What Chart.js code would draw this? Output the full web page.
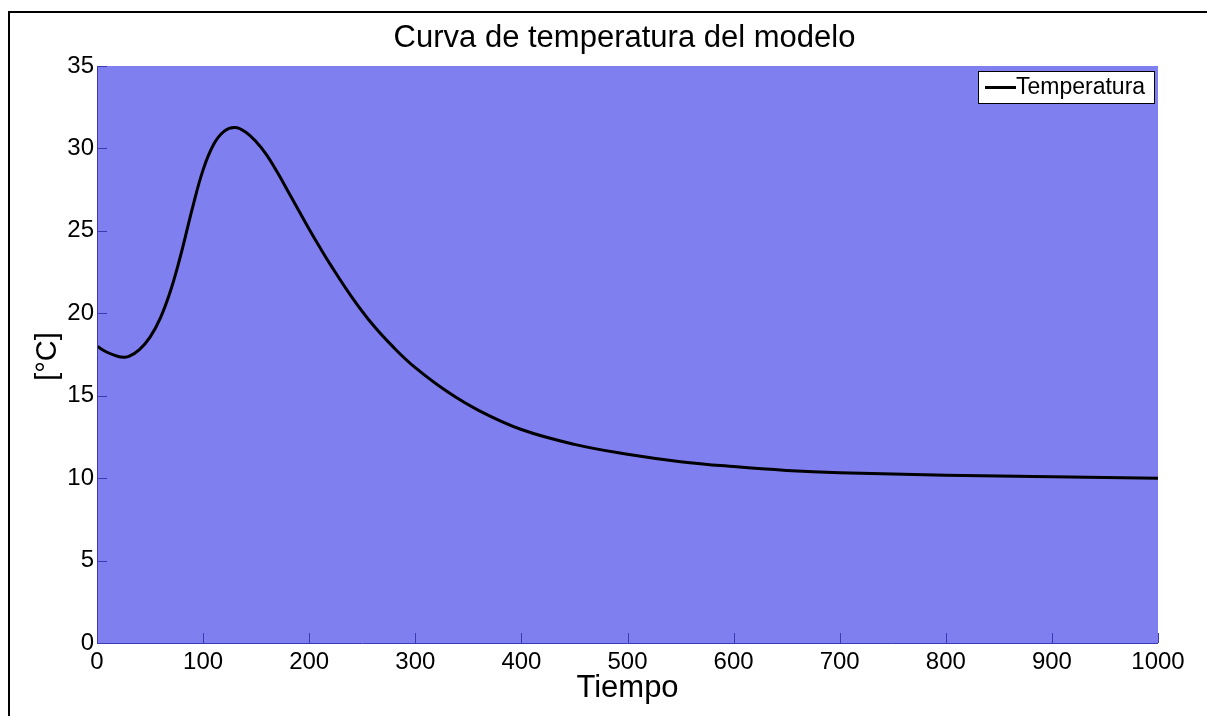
<!DOCTYPE html>
<html>
<head>
<meta charset="utf-8">
<script src="https://cdn.jsdelivr.net/npm/chart.js@4/dist/chart.umd.min.js"></script>
<style>
html,body{margin:0;padding:0;background:#fff;overflow:hidden;}
canvas{display:block;}
</style>
</head>
<body>
<canvas id="c" width="1207" height="716"></canvas>
<script>
const chartTitle = "Curva de temperatura del modelo";
const xTitle = "Tiempo";
const yTitle = "[°C]";
const seriesName = "Temperatura";
const times = [0,10,20,25,30,40,50,60,70,80,90,100,110,120,130,140,150,160,170,180,190,200,210,220,240,260,280,300,330,360,400,450,500,550,600,650,700,800,900,1000];
const temperatures = [18.0,17.62,17.38,17.34,17.38,17.8,18.55,19.75,21.5,23.8,26.4,28.7,30.25,31.05,31.27,31.0,30.4,29.6,28.55,27.4,26.25,25.1,24.0,22.95,21.0,19.3,17.9,16.7,15.25,14.1,12.95,12.05,11.45,11.0,10.7,10.47,10.33,10.18,10.08,10.0];
const xTicks = [0,100,200,300,400,500,600,700,800,900,1000];
const yTicks = [0,5,10,15,20,25,30,35];

const FONT = "'Liberation Sans', Arial, Helvetica, sans-serif";
const AXIS_COLOR = "#3a3ab4";
const BG = "rgb(127,127,239)";

const points = times.map((t, i) => ({x: t, y: temperatures[i]}));

const decor = {
  id: 'decor',
  beforeDraw(chart) {
    const {ctx, chartArea: a} = chart;
    ctx.save();
    ctx.fillStyle = BG;
    ctx.fillRect(a.left, a.top, a.right - a.left, a.bottom - a.top);
    ctx.restore();
  },
  afterDatasetsDraw(chart) {
    const {ctx, chartArea: a, scales} = chart;
    ctx.save();
    ctx.strokeStyle = AXIS_COLOR;
    ctx.lineWidth = 1;
    ctx.beginPath();
    ctx.moveTo(a.left + 0.5, a.top);
    ctx.lineTo(a.left + 0.5, a.bottom + 0.5);
    ctx.lineTo(a.right, a.bottom + 0.5);
    ctx.stroke();
    ctx.beginPath();
    xTicks.forEach(v => {
      const px = Math.round(scales.x.getPixelForValue(v)) + 0.5;
      ctx.moveTo(px, a.bottom);
      ctx.lineTo(px, a.bottom - 10);
    });
    yTicks.forEach(v => {
      const py = Math.round(scales.y.getPixelForValue(v)) + 0.5;
      ctx.moveTo(a.left, py);
      ctx.lineTo(a.left + 10, py);
    });
    ctx.stroke();
    // legend
    const lx = 978, ly = 71, lw = 176, lh = 32;
    ctx.fillStyle = '#fff';
    ctx.fillRect(lx, ly, lw, lh);
    ctx.strokeStyle = '#000';
    ctx.lineWidth = 1;
    ctx.strokeRect(lx + 0.5, ly + 0.5, lw, lh);
    ctx.lineWidth = 3;
    ctx.beginPath();
    ctx.moveTo(985, ly + 16.5);
    ctx.lineTo(1016, ly + 16.5);
    ctx.stroke();
    ctx.fillStyle = '#000';
    ctx.font = "23px " + FONT;
    ctx.textBaseline = 'middle';
    ctx.textAlign = 'left';
    ctx.fillText(seriesName, 1016, ly + 17);
    // titles
    const cx = (a.left + a.right) / 2;
    ctx.textAlign = 'center';
    ctx.font = "31px " + FONT;
    ctx.fillText(chartTitle, cx - 3, 38);
    ctx.font = "31px " + FONT;
    ctx.fillText(xTitle, cx, 688);
    ctx.save();
    ctx.translate(48, (a.top + a.bottom) / 2 + 2);
    ctx.rotate(-Math.PI / 2);
    ctx.font = "29px " + FONT;
    ctx.fillText(yTitle, 0, 0);
    ctx.restore();
    // figure frame (left & top)
    ctx.strokeStyle = '#000';
    ctx.lineWidth = 2;
    ctx.beginPath();
    ctx.moveTo(9, 716);
    ctx.lineTo(9, 12);
    ctx.lineTo(1207, 12);
    ctx.stroke();
    ctx.restore();
  }
};

new Chart(document.getElementById('c'), {
  type: 'line',
  data: {
    datasets: [{
      label: seriesName,
      data: points,
      borderColor: '#000',
      borderWidth: 3,
      pointRadius: 0,
      fill: false,
      tension: 0.4
    }]
  },
  options: {
    responsive: false,
    animation: false,
    devicePixelRatio: 1,
    layout: {padding: {left: 0, top: 66, right: 49, bottom: 0}},
    plugins: {legend: {display: false}, title: {display: false}, tooltip: {enabled: false}},
    scales: {
      x: {
        type: 'linear', min: 0, max: 1000,
        afterFit(s) { s.height = 73; },
        afterBuildTicks(s) { s.ticks = xTicks.map(v => ({value: v})); },
        grid: {display: false, tickLength: 0},
        border: {display: false},
        ticks: {color: '#000', font: {family: FONT, size: 24}, padding: 5, maxRotation: 0, autoSkip: false,
                callback: v => String(v)}
      },
      y: {
        type: 'linear', min: 0, max: 35,
        afterFit(s) { s.width = 97; },
        afterBuildTicks(s) { s.ticks = yTicks.map(v => ({value: v})); },
        grid: {display: false, tickLength: 0},
        border: {display: false},
        ticks: {color: '#000', font: {family: FONT, size: 24}, padding: 3, autoSkip: false,
                callback: v => String(v)}
      }
    }
  },
  plugins: [decor]
});
</script>
</body>
</html>
